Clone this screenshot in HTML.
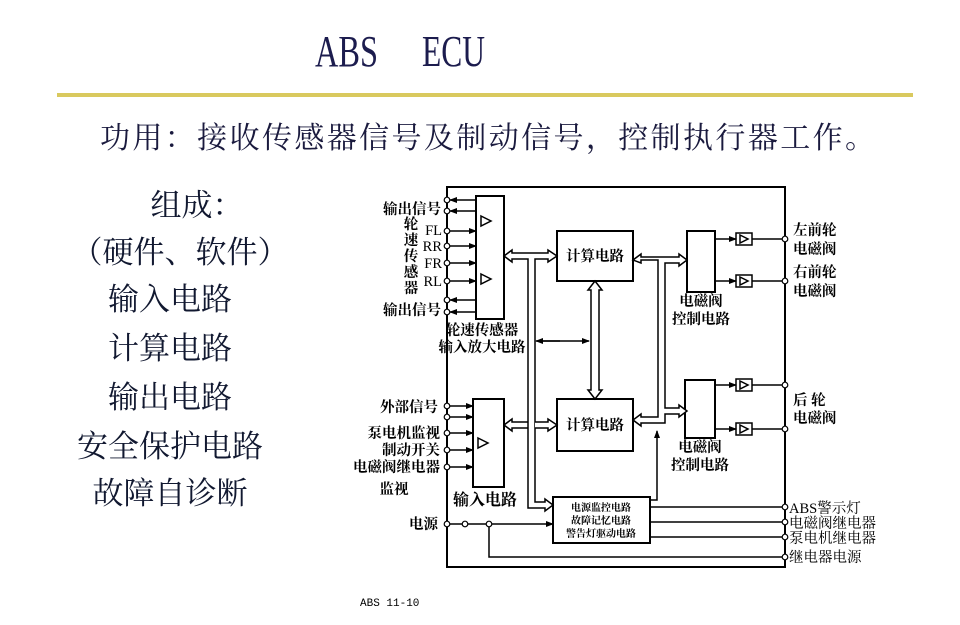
<!DOCTYPE html>
<html><head><meta charset="utf-8"><style>
html,body{margin:0;padding:0;background:#fff;}
svg{display:block;}
</style></head><body>
<svg width="960" height="625" viewBox="0 0 960 625" xmlns="http://www.w3.org/2000/svg">
<defs>
<marker id="a" markerWidth="8" markerHeight="6" refX="7" refY="3" orient="auto" markerUnits="userSpaceOnUse"><path d="M0,0 L8,3 L0,6z" fill="#000"/></marker>
</defs>
<rect width="960" height="625" fill="#fff"/>
<text x="315" y="66" font-family="Liberation Serif, serif" font-size="44" fill="#1c1c4e" textLength="63" lengthAdjust="spacingAndGlyphs">ABS</text>
<text x="422" y="66" font-family="Liberation Serif, serif" font-size="44" fill="#1c1c4e" textLength="63" lengthAdjust="spacingAndGlyphs">ECU</text>
<rect x="57" y="93" width="856" height="4" fill="#d9c95e"/>
<text x="100" y="148" font-family="Liberation Serif, 'Noto Serif CJK SC', serif" font-size="30" fill="#1a1a3e" textLength="775">功用：接收传感器信号及制动信号，控制执行器工作。</text>
<g font-family="Liberation Serif, 'Noto Serif CJK SC', serif" font-size="31" fill="#111830" text-anchor="middle">
<text x="197" y="216">组成：</text>
<text x="180" y="263">（硬件、软件）</text>
<text x="170" y="310">输入电路</text>
<text x="170" y="359">计算电路</text>
<text x="170" y="408">输出电路</text>
<text x="170" y="457">安全保护电路</text>
<text x="170" y="504">故障自诊断</text>
</g>
<text x="360" y="606" font-family="Liberation Mono, monospace" font-size="11" fill="#000">ABS  11-10</text>

<g stroke="#000" fill="none" stroke-width="2">
<rect x="447" y="187" width="338" height="380"/>
<rect x="476" y="196" width="28" height="123" fill="#fff"/>
<rect x="473" y="399" width="31" height="88" fill="#fff"/>
<rect x="557" y="231" width="76" height="50" fill="#fff"/>
<rect x="557" y="399" width="76" height="52" fill="#fff"/>
<rect x="553" y="497" width="97" height="46" fill="#fff"/>
<rect x="687" y="231" width="28" height="61" fill="#fff"/>
<rect x="685" y="380" width="30" height="58" fill="#fff"/>
</g>
<g stroke="#000" stroke-width="1.5" fill="none">
<path d="M481,216 l10,5 l-10,5z M481,274 l10,5 l-10,5z M478,438 l10,5 l-10,5z"/>
<line x1="476" y1="200" x2="450" y2="200" marker-end="url(#a)"/>
<line x1="476" y1="211" x2="450" y2="211" marker-end="url(#a)"/>
<line x1="476" y1="300" x2="450" y2="300" marker-end="url(#a)"/>
<line x1="476" y1="312" x2="450" y2="312" marker-end="url(#a)"/>
<line x1="450" y1="231" x2="476" y2="231" marker-end="url(#a)"/>
<line x1="450" y1="246" x2="476" y2="246" marker-end="url(#a)"/>
<line x1="450" y1="263" x2="476" y2="263" marker-end="url(#a)"/>
<line x1="450" y1="281" x2="476" y2="281" marker-end="url(#a)"/>
<line x1="450" y1="406" x2="473" y2="406" marker-end="url(#a)"/>
<line x1="450" y1="417" x2="473" y2="417" marker-end="url(#a)"/>
<line x1="450" y1="433" x2="473" y2="433" marker-end="url(#a)"/>
<line x1="450" y1="450" x2="473" y2="450" marker-end="url(#a)"/>
<line x1="450" y1="467" x2="473" y2="467" marker-end="url(#a)"/>
<line x1="450" y1="524" x2="553" y2="524" marker-end="url(#a)"/>
<polyline points="489,524 489,557 785,557"/>
<line x1="650" y1="507" x2="785" y2="507"/>
<line x1="650" y1="522" x2="785" y2="522"/>
<line x1="650" y1="537" x2="785" y2="537"/>
<polyline points="650,500 657,500 657,431" marker-end="url(#a)"/>
<line x1="540" y1="341" x2="589" y2="341" marker-end="url(#a)"/>
<line x1="560" y1="341" x2="536" y2="341" marker-end="url(#a)"/>
<line x1="715" y1="239" x2="736" y2="239" marker-end="url(#a)"/>
<line x1="715" y1="281" x2="736" y2="281" marker-end="url(#a)"/>
<line x1="715" y1="385" x2="736" y2="385" marker-end="url(#a)"/>
<line x1="715" y1="429" x2="736" y2="429" marker-end="url(#a)"/>
<rect x="736" y="233" width="16" height="12"/><path d="M740,235 l8,4 l-8,4z"/>
<rect x="736" y="275" width="16" height="12"/><path d="M740,277 l8,4 l-8,4z"/>
<rect x="736" y="379" width="16" height="12"/><path d="M740,381 l8,4 l-8,4z"/>
<rect x="736" y="423" width="16" height="12"/><path d="M740,425 l8,4 l-8,4z"/>
<line x1="752" y1="239" x2="785" y2="239"/>
<line x1="752" y1="281" x2="785" y2="281"/>
<line x1="752" y1="385" x2="785" y2="385"/>
<line x1="752" y1="429" x2="785" y2="429"/>
</g>
<g stroke="#000" stroke-width="1.5" fill="#fff" stroke-linejoin="miter">
<path d="M504,256 l8,-6 v3 h36 v-3 l9,6 l-9,6 v-3 h-13 v243 h10 v-3 l8,6 l-8,6 v-3 h-17 v-249 h-16 v3z"/>
<path d="M504,425 l8,-6 v3 h16 M535,422 h13 v-3 l9,6 l-9,6 v-3 h-13 M528,428 h-16 v3 l-8,-6" />
<path d="M595,281 l7,9 h-3 v100 h3 l-7,9 l-7,-9 h3 v-100 h-3z"/>
<path d="M633,260 l8,-6 v3 h38 v-3 l8,6 l-8,6 v-3 h-14 v145 h14 v-3 l8,6 l-8,6 v-3 h-14 v9 h-24 v3 l-8,-6 l8,-6 v3 h17 v-157 h-17 v3z"/>
</g>
<g stroke="#000" stroke-width="1.2" fill="#fff">
<circle cx="447" cy="200" r="2.8"/><circle cx="447" cy="211" r="2.8"/><circle cx="447" cy="231" r="2.8"/><circle cx="447" cy="246" r="2.8"/><circle cx="447" cy="263" r="2.8"/><circle cx="447" cy="281" r="2.8"/><circle cx="447" cy="300" r="2.8"/><circle cx="447" cy="312" r="2.8"/>
<circle cx="447" cy="406" r="2.8"/><circle cx="447" cy="417" r="2.8"/><circle cx="447" cy="433" r="2.8"/><circle cx="447" cy="450" r="2.8"/><circle cx="447" cy="467" r="2.8"/>
<circle cx="447" cy="524" r="2.8"/><circle cx="465" cy="524" r="2.8"/><circle cx="489" cy="524" r="2.8"/>
<circle cx="785" cy="239" r="2.8"/><circle cx="785" cy="281" r="2.8"/><circle cx="785" cy="385" r="2.8"/><circle cx="785" cy="429" r="2.8"/>
<circle cx="785" cy="507" r="2.8"/><circle cx="785" cy="522" r="2.8"/><circle cx="785" cy="537" r="2.8"/><circle cx="785" cy="557" r="2.8"/>
</g>
<g font-family="Liberation Serif, 'Noto Serif CJK SC', serif" font-size="14.5" fill="#000" font-weight="bold">
<text x="441" y="214" text-anchor="end">输出信号</text>
<text x="441" y="315" text-anchor="end">输出信号</text>
<text x="411" y="229" text-anchor="middle">轮</text><text x="411" y="245" text-anchor="middle">速</text><text x="411" y="261" text-anchor="middle">传</text><text x="411" y="277" text-anchor="middle">感</text><text x="411" y="293" text-anchor="middle">器</text>
<text x="442" y="235" text-anchor="end" font-weight="normal">FL</text>
<text x="442" y="251" text-anchor="end" font-weight="normal">RR</text>
<text x="442" y="268" text-anchor="end" font-weight="normal">FR</text>
<text x="442" y="286" text-anchor="end" font-weight="normal">RL</text>
<text x="482" y="335" text-anchor="middle">轮速传感器</text>
<text x="482" y="352" text-anchor="middle">输入放大电路</text>
<text x="595" y="261" text-anchor="middle">计算电路</text>
<text x="595" y="430" text-anchor="middle">计算电路</text>
<text x="438" y="412" text-anchor="end">外部信号</text>
<text x="440" y="438" text-anchor="end">泵电机监视</text>
<text x="440" y="455" text-anchor="end">制动开关</text>
<text x="440" y="472" text-anchor="end">电磁阀继电器</text>
<text x="394" y="494" text-anchor="middle">监视</text>
<text x="485" y="505" text-anchor="middle" font-size="16">输入电路</text>
<text x="438" y="529" text-anchor="end">电源</text>
<text x="701" y="306" text-anchor="middle">电磁阀</text>
<text x="701" y="324" text-anchor="middle">控制电路</text>
<text x="700" y="452" text-anchor="middle">电磁阀</text>
<text x="700" y="470" text-anchor="middle">控制电路</text>
<text x="793" y="235">左前轮</text><text x="793" y="254">电磁阀</text>
<text x="793" y="277">右前轮</text><text x="793" y="296">电磁阀</text>
<text x="793" y="405">后  轮</text><text x="793" y="423">电磁阀</text>
<text x="789" y="513" font-weight="normal">ABS警示灯</text>
<text x="789" y="528" font-weight="normal">电磁阀继电器</text>
<text x="789" y="543" font-weight="normal">泵电机继电器</text>
<text x="789" y="562" font-weight="normal">继电器电源</text>
</g>
<g font-family="Liberation Serif, 'Noto Serif CJK SC', serif" font-size="10" fill="#000" font-weight="bold" text-anchor="middle">
<text x="601" y="511">电源监控电路</text>
<text x="601" y="524">故障记忆电路</text>
<text x="601" y="537">警告灯驱动电路</text>
</g>
</svg>
</body></html>
